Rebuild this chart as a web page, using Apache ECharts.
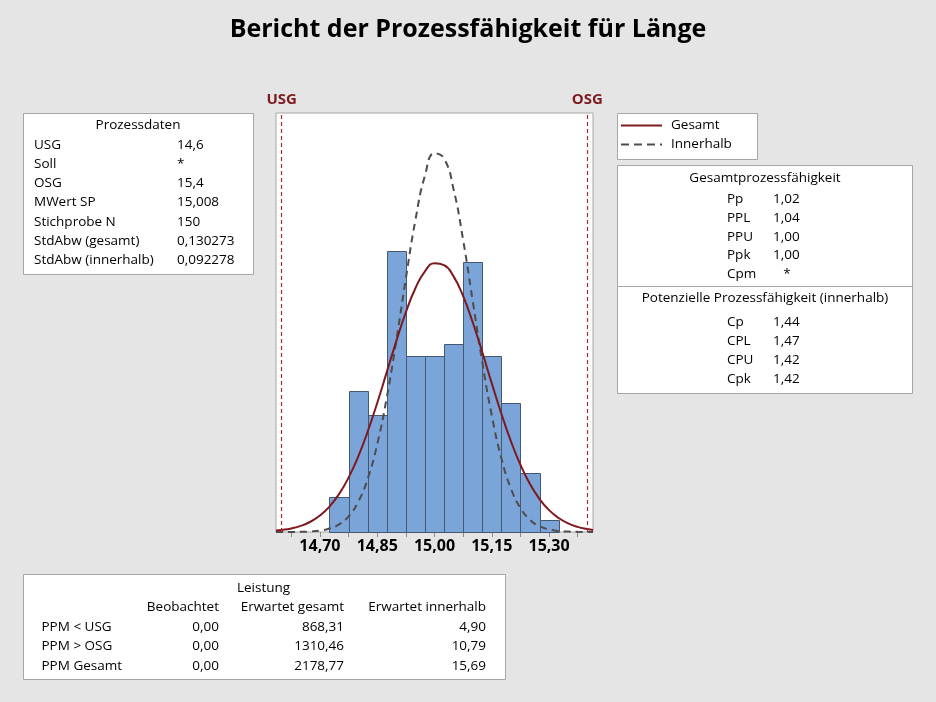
<!DOCTYPE html>
<html>
<head>
<meta charset="utf-8">
<script src="https://cdn.jsdelivr.net/npm/echarts@6/dist/echarts.min.js"></script>
<style>
html,body{margin:0;padding:0;background:#E5E5E5;}
#chart{width:936px;height:702px;}
</style>
</head>
<body>
<div id="chart"></div>
<script>
// ---- Data ----
const binCenters = [14.75, 14.80, 14.85, 14.90, 14.95, 15.00, 15.05, 15.10, 15.15, 15.20, 15.25, 15.30];
const binCounts  = [3, 12, 10, 24, 15, 15, 16, 23, 15, 11, 5, 1];
const binWidth = 0.05;

const curveX = [14.585, 14.600, 14.625, 14.650, 14.675, 14.700, 14.725, 14.750, 14.775, 14.800, 14.825, 14.850,
  14.875, 14.900, 14.925, 14.950, 14.975, 15.000, 15.025, 15.050, 15.075, 15.100, 15.125, 15.150,
  15.175, 15.200, 15.225, 15.250, 15.275, 15.300, 15.325, 15.350, 15.375, 15.400, 15.415];
const gesamtY = [0.118, 0.170, 0.305, 0.526, 0.875, 1.404, 2.169, 3.231, 4.638, 6.418, 8.561, 11.01,
  13.64, 16.29, 18.75, 20.80, 22.24, 22.93, 22.77, 21.81, 20.12, 17.90, 15.35, 12.68,
  10.10, 7.752, 5.736, 4.090, 2.812, 1.863, 1.190, 0.732, 0.434, 0.249, 0.174];
const innerhalbY = [0.0009, 0.0018, 0.0059, 0.0175, 0.048, 0.124, 0.294, 0.650, 1.338, 2.557, 4.539, 7.486,
  11.47, 16.34, 21.63, 26.61, 30.41, 32.30, 31.88, 29.23, 24.91, 19.72, 14.51, 9.924,
  6.304, 3.721, 2.042, 1.041, 0.493, 0.217, 0.0888, 0.0337, 0.0119, 0.0039, 0.002];

const USG = 14.6, OSG = 15.4;
const xTickValues = [14.625, 14.700, 14.775, 14.850, 14.925, 15.000, 15.075, 15.150, 15.225, 15.300, 15.375];
const xLabelValues = [14.70, 14.85, 15.00, 15.15, 15.30];
const xTickLabels = ['14,70', '14,85', '15,00', '15,15', '15,30'];

const titleText = 'Bericht der Prozessfähigkeit für Länge';

const prozessLabels = ['USG', 'Soll', 'OSG', 'MWert SP', 'Stichprobe N', 'StdAbw (gesamt)', 'StdAbw (innerhalb)'];
const prozessValues = ['14,6', '*', '15,4', '15,008', '150', '0,130273', '0,092278'];

const gesamtLabels = ['Pp', 'PPL', 'PPU', 'Ppk', 'Cpm'];
const gesamtValues = ['1,02', '1,04', '1,00', '1,00', '*'];
const potLabels = ['Cp', 'CPL', 'CPU', 'Cpk'];
const potValues = ['1,44', '1,47', '1,42', '1,42'];

const leistungHeaders = ['Beobachtet', 'Erwartet gesamt', 'Erwartet innerhalb'];
const leistungRows = ['PPM < USG', 'PPM > OSG', 'PPM Gesamt'];
const leistungBeob = ['0,00', '0,00', '0,00'];
const leistungGes = ['868,31', '1310,46', '2178,77'];
const leistungInn = ['4,90', '10,79', '15,69'];

// ---- Styling ----
const FONT = '"Open Sans", "Noto Sans", sans-serif';
const TFS = 13.5;
const RED = '#7E1A1F';
const BOX = '#A6A6A6';

function txt(x, y, s, align, opts) {
  opts = opts || {};
  return {
    type: 'text', silent: true,
    style: {
      x: x, y: y, text: s,
      fill: opts.color || '#000',
      font: (opts.weight || 'normal') + ' ' + (opts.size || TFS) + 'px ' + FONT,
      textAlign: align || 'left', align: align || 'left',
      textVerticalAlign: 'middle', verticalAlign: 'middle'
    }
  };
}
function box(x, y, w, h) {
  return { type: 'rect', silent: true, shape: { x: x + 0.5, y: y + 0.5, width: w, height: h },
    style: { fill: '#fff', stroke: BOX, lineWidth: 1 } };
}
function hline(x1, x2, y, color, dash, width) {
  return { type: 'line', silent: true, shape: { x1: x1, y1: y, x2: x2, y2: y },
    style: { stroke: color, lineWidth: width || 1, lineDash: dash || null } };
}

const graphics = [];
// Prozessdaten box
graphics.push(box(23, 113, 230, 161));
graphics.push(txt(138, 125.5, 'Prozessdaten', 'center'));
prozessLabels.forEach((l, i) => {
  const y = 145 + i * 19.2;
  graphics.push(txt(34, y, l, 'left'));
  graphics.push(txt(177, y, prozessValues[i], 'left'));
});
// Legend box
graphics.push(box(617, 113, 140, 46));
graphics.push(hline(621, 662, 125.5, RED, null, 2));
graphics.push(txt(671, 125.5, 'Gesamt', 'left'));
graphics.push(hline(621, 662, 144.5, '#4D4D4D', [8, 5], 2));
graphics.push(txt(671, 144.5, 'Innerhalb', 'left'));
// Capability box
graphics.push(box(617, 165, 295, 228));
graphics.push(hline(617.5, 912.5, 286.5, BOX));
graphics.push(txt(765, 178.5, 'Gesamtprozessfähigkeit', 'center'));
gesamtLabels.forEach((l, i) => {
  const y = 199.3 + i * 18.7;
  graphics.push(txt(727, y, l, 'left'));
  const v = gesamtValues[i];
  if (v === '*') graphics.push(txt(787, y, v, 'center'));
  else graphics.push(txt(773, y, v, 'left'));
});
graphics.push(txt(765, 298.5, 'Potenzielle Prozessfähigkeit (innerhalb)', 'center'));
potLabels.forEach((l, i) => {
  const y = 322 + i * 18.9;
  graphics.push(txt(727, y, l, 'left'));
  graphics.push(txt(773, y, potValues[i], 'left'));
});
// Leistung box
graphics.push(box(23, 574, 482, 105));
graphics.push(txt(263.5, 588.5, 'Leistung', 'center'));
const colX = [219, 344, 486];
leistungHeaders.forEach((h, i) => graphics.push(txt(colX[i], 607.5, h, 'right')));
leistungRows.forEach((r, i) => {
  const y = 627.3 + i * 19.3;
  graphics.push(txt(41.5, y, r, 'left'));
  graphics.push(txt(colX[0], y, leistungBeob[i], 'right'));
  graphics.push(txt(colX[1], y, leistungGes[i], 'right'));
  graphics.push(txt(colX[2], y, leistungInn[i], 'right'));
});

const chart = echarts.init(document.getElementById('chart'), null, { renderer: 'canvas' });

const option = {
  backgroundColor: '#E5E5E5',
  animation: false,
  title: {
    text: titleText, left: 'center', top: 12,
    textStyle: { fontFamily: FONT, fontSize: 25, fontWeight: 'bold', color: '#000' }
  },
  grid: {
    left: 276, top: 113, right: 343, bottom: 170,
    show: true, backgroundColor: '#fff', borderColor: BOX, borderWidth: 1
  },
  xAxis: {
    type: 'value', min: 14.585, max: 15.415,
    axisLine: { show: false },
    axisTick: { show: true, length: 5, lineStyle: { color: '#8C8C8C' }, customValues: xTickValues },
    splitLine: { show: false },
    axisLabel: {
      margin: 6, color: '#000', fontFamily: FONT, fontSize: 16, fontWeight: 'bold',
      customValues: xLabelValues,
      formatter: function (v) {
        const i = xLabelValues.findIndex(t => Math.abs(t - v) < 1e-6);
        return i >= 0 ? xTickLabels[i] : '';
      }
    }
  },
  yAxis: { type: 'value', min: 0, max: 35.75, show: false, splitLine: { show: false } },
  graphic: graphics,
  series: [
    {
      type: 'custom', name: 'Histogramm',
      data: binCenters.map((c, i) => [c, binCounts[i]]),
      renderItem: function (params, api) {
        const c = api.value(0), h = api.value(1);
        const p0 = api.coord([c - binWidth / 2, h]);
        const p1 = api.coord([c + binWidth / 2, 0]);
        return {
          type: 'rect',
          shape: { x: Math.round(p0[0]) + 0.5, y: Math.round(p0[1]) + 0.5, width: Math.round(p1[0]) - Math.round(p0[0]), height: Math.round(p1[1]) - Math.round(p0[1]) },
          style: { fill: '#7BA4D8', stroke: '#44586F', lineWidth: 1 }
        };
      },
      z: 1
    },
    {
      type: 'line', name: 'Gesamt',
      data: curveX.map((x, i) => [x, gesamtY[i]]),
      smooth: true, showSymbol: false,
      lineStyle: { color: RED, width: 2 },
      z: 3,
      markLine: {
        silent: true, symbol: 'none',
        lineStyle: { color: '#B3262E', width: 1.2, type: [4, 3], opacity: 1 },
        label: {
          show: true, position: 'end', distance: 6, color: RED,
          fontFamily: FONT, fontSize: 15, fontWeight: 'bold',
          formatter: function (p) { return p.name; }
        },
        data: [{ name: 'USG', xAxis: USG }, { name: 'OSG', xAxis: OSG }]
      }
    },
    {
      type: 'line', name: 'Innerhalb',
      data: curveX.map((x, i) => [x, innerhalbY[i]]),
      smooth: true, showSymbol: false,
      lineStyle: { color: '#4D4D4D', width: 2, type: [7, 5] },
      z: 2
    }
  ]
};
chart.setOption(option);
</script>
</body>
</html>
